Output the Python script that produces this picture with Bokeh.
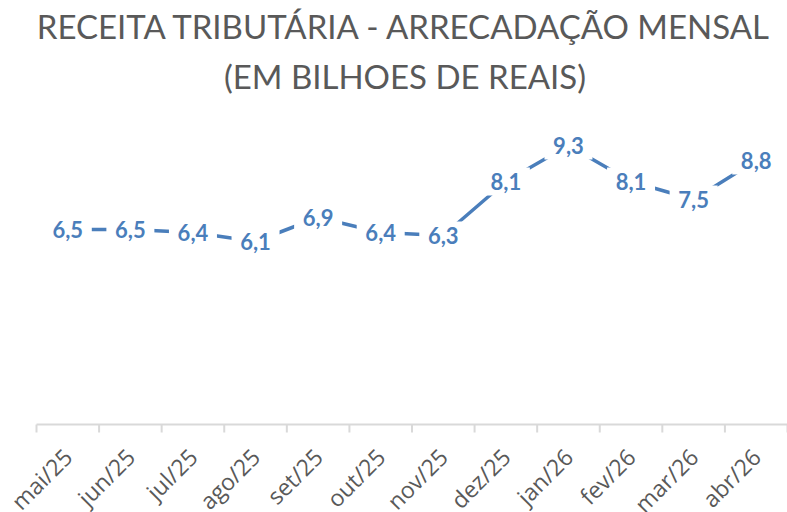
from math import pi
from bokeh.plotting import figure
from bokeh.models import Range1d, ColumnDataSource
from bokeh.core.properties import value
from bokeh.embed import file_html
from bokeh.resources import INLINE

# ---- data ----
months = ["mai/25", "jun/25", "jul/25", "ago/25", "set/25", "out/25",
          "nov/25", "dez/25", "jan/26", "fev/26", "mar/26", "abr/26"]
receita = [6.5, 6.5, 6.4, 6.1, 6.9, 6.4, 6.3, 8.1, 9.3, 8.1, 7.5, 8.8]
title_lines = ["RECEITA TRIBUTÁRIA - ARRECADAÇÃO MENSAL", "(EM BILHOES DE REAIS)"]
y_max = 10

BLUE = "#4A7EBB"
GRAY = "#595959"
AXIS_GRAY = "#D9D9D9"

W, H = 787, 512
LEFT_PAD, TOP_PAD, BOTTOM_PAD = 36, 124, 88   # pixel space around the value area

n = len(months)
xs = [i + 0.5 for i in range(n)]
bounds = list(range(n + 1))
labels = [f"{v:.1f}".replace(".", ",") for v in receita]
src = ColumnDataSource(dict(x=xs, y=receita, label=labels, month=months,
                            base=[0] * n))

ppy = (H - TOP_PAD - BOTTOM_PAD) / y_max
ppx = (W - LEFT_PAD) / n
x_range = Range1d(-LEFT_PAD / ppx, n)
y_range = Range1d(-BOTTOM_PAD / ppy, y_max + TOP_PAD / ppy)

p = figure(width=W, height=H, output_backend="svg", toolbar_location=None,
           title=None, x_range=x_range, y_range=y_range, min_border=0)
p.outline_line_color = None
p.grid.visible = False
p.xaxis.visible = False
p.yaxis.visible = False
p.background_fill_color = "white"
p.border_fill_color = "white"

# titles
for txt, off in zip(title_lines, [25, 75]):
    p.text(x=[n / 2], y=[y_range.end], text=[txt], x_offset=-7, y_offset=off,
           text_align="center", text_baseline="alphabetic",
           text_font=value("Lato"), text_font_size="33px", text_color=GRAY)

# category axis at value 0 with ticks between categories
p.segment(x0=[0], y0=[0], x1=[n], y1=[0], line_color=AXIS_GRAY, line_width=2)
p.ray(x=bounds, y=[0] * len(bounds), length=8, length_units="screen",
      angle=-pi / 2, line_color=AXIS_GRAY, line_width=2)

# series
p.line("x", "y", source=src, line_color=BLUE, line_width=3.5)
p.rect("x", "y", width=48, height=28, width_units="screen", height_units="screen",
       source=src, fill_color="white", line_color=None)
p.text("x", "y", text="label", source=src, text_font=value("Lato"),
       text_font_style="bold", text_font_size="22px", text_color=BLUE,
       text_align="center", text_baseline="middle")

# category labels rotated 45 degrees
p.text("x", "base", text="month", source=src, angle=pi / 4,
       x_offset=0, y_offset=28, text_align="right", text_baseline="middle",
       text_font=value("Open Sans"), text_font_size="23px", text_color=GRAY)

open("out.html", "w").write(file_html(p, INLINE))
